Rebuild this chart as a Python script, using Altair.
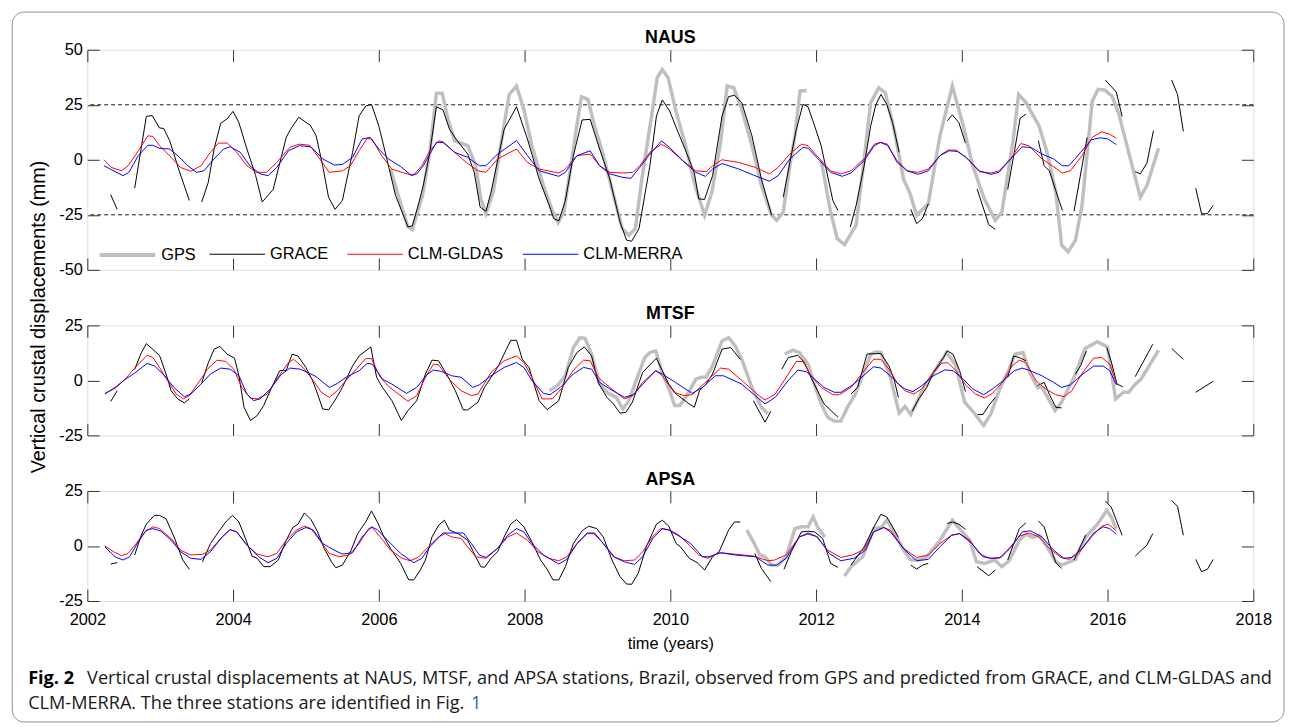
import altair as alt
import pandas as pd

FONT = "Liberation Sans, Arial, sans-serif"
CAP_FONT = "Open Sans, Noto Sans, sans-serif"

SERIES = ["GPS", "GRACE", "CLM-GLDAS", "CLM-MERRA"]
COLORS = ["#bfbfbf", "#000000", "#ff0000", "#0000ff"]
WIDTHS = [3.5, 1.0, 1.0, 1.0]
X_TICKS = [2002, 2004, 2006, 2008, 2010, 2012, 2014, 2016, 2018]
Y_TICKS_NAUS = [-50, -25, 0, 25, 50]
Y_TICKS_SMALL = [-25, 0, 25]
DASH_LEVELS = [25, -25]
G = None  # gap marker

NAUS_GRACE = [(2002.32,-15.8),(2002.41,-22.5),G,(2002.65,-12.9),(2002.81,19.7),(2002.89,20.1),(2002.99,14.5),(2003.05,14.2),(2003.13,8.7),(2003.26,-4.9),(2003.40,-18.5),G,
 (2003.57,-19.2),(2003.66,-10.2),(2003.74,4.9),(2003.83,16.6),(2003.92,18.7),(2004.00,22.0),(2004.08,16.9),(2004.19,4.9),(2004.31,-7.2),(2004.40,-19.2),(2004.55,-13.5),
 (2004.73,10.2),(2004.79,13.9),(2004.90,19.3),(2005.06,15.7),(2005.14,10.9),(2005.23,-2.7),(2005.31,-17.0),(2005.40,-22.5),(2005.50,-18.5),(2005.64,3.4),(2005.73,20.0),
 (2005.82,24.4),(2005.90,25.2),(2006.00,15.4),(2006.11,0.4),(2006.23,-16.2),(2006.40,-30.5),(2006.46,-30.0),(2006.54,-20.7),(2006.61,-11.7),(2006.70,3.4),(2006.79,24.1),
 (2006.88,22.7),(2006.97,13.9),(2007.06,9.4),(2007.22,2.6),(2007.31,-5.7),(2007.39,-21.5),(2007.47,-23.4),(2007.54,-14.7),(2007.72,13.9),(2007.89,24.1),(2008.04,9.4),
 (2008.20,-8.7),(2008.33,-20.0),(2008.40,-26.7),(2008.47,-27.8),(2008.56,-18.5),(2008.67,1.9),(2008.79,18.1),(2008.90,18.4),(2009.03,4.9),(2009.17,-8.7),(2009.31,-28.3),
 (2009.40,-36.5),(2009.47,-37.0),(2009.57,-31.3),(2009.72,-2.7),(2009.81,19.9),(2009.89,27.2),(2009.99,22.2),(2010.10,13.1),(2010.22,3.4),(2010.33,-6.0),(2010.39,-17.8),
 (2010.47,-18.0),(2010.58,-7.2),(2010.71,19.9),(2010.80,28.7),(2010.88,29.3),(2010.98,26.0),(2011.12,10.9),(2011.25,-8.7),(2011.39,-25.2),G,(2011.55,-17.0),(2011.64,-1.2),
 (2011.73,13.9),(2011.82,25.2),(2011.89,24.1),(2011.98,15.4),(2012.07,6.4),(2012.23,-18.5),(2012.30,-23.0),G,(2012.47,-30.5),(2012.55,-20.7),(2012.66,-2.7),(2012.75,15.4),
 (2012.82,25.0),(2012.89,29.7),(2012.97,25.2),(2013.05,16.9),(2013.14,3.4),G,(2013.30,-22.5),(2013.38,-29.0),(2013.46,-26.7),(2013.54,-20.0),G,(2013.80,17.7),(2013.87,20.4),
 (2013.96,16.9),(2014.05,7.6),G,(2014.21,-13.2),(2014.37,-29.5),(2014.46,-31.6),G,(2014.63,-13.5),(2014.72,3.4),(2014.80,18.9),(2014.88,20.7),G,(2015.05,8.7),(2015.13,-2.7),
 (2015.20,-4.9),(2015.29,-14.0),(2015.38,-23.0),G,(2015.54,-23.4),(2015.72,10.2),G,(2015.97,36.2),(2016.12,30.8),(2016.20,19.7),G,(2016.38,-5.4),(2016.45,-6.4),(2016.54,-1.5),
 (2016.63,13.2),G,(2016.88,36.2),(2016.96,29.7),(2017.04,12.9),G,(2017.21,-12.9),(2017.29,-24.5),(2017.37,-24.5),(2017.45,-20.7)]

NAUS_GPS = [(2006.16,-4.2),(2006.30,-20.0),(2006.40,-30.5),(2006.46,-31.6),(2006.60,-16.2),(2006.70,3.4),(2006.79,30.2),(2006.87,30.2),(2006.95,18.4),(2007.04,8.6),
 (2007.22,6.4),(2007.33,-2.7),(2007.40,-17.8),(2007.47,-24.5),(2007.57,-14.7),(2007.70,12.0),(2007.79,29.7),(2007.89,33.5),(2007.99,23.0),(2008.10,6.4),(2008.26,-11.7),
 (2008.37,-22.2),(2008.46,-28.6),(2008.54,-23.7),(2008.71,13.9),(2008.78,28.6),(2008.87,27.5),(2008.96,15.4),(2009.07,3.4),(2009.21,-14.7),(2009.34,-31.3),(2009.43,-34.3),
 (2009.52,-31.3),(2009.61,-8.7),(2009.75,21.4),(2009.82,37.3),(2009.89,41.0),(2009.97,37.3),(2010.07,23.0),(2010.21,6.4),(2010.34,-11.7),(2010.47,-25.2),(2010.57,-14.7),
 (2010.69,7.9),(2010.78,33.5),(2010.87,32.7),(2010.98,23.0),(2011.12,6.4),(2011.25,-11.7),(2011.39,-25.2),(2011.46,-27.5),(2011.55,-23.7),(2011.64,-2.7),(2011.71,10.9),
 (2011.78,31.3),(2011.87,31.5),G,(2012.07,-0.4),(2012.20,-23.7),(2012.29,-35.8),(2012.39,-38.5),(2012.55,-29.7),(2012.66,0.4),(2012.75,26.0),(2012.86,32.7),(2012.95,30.5),
 (2013.07,13.9),(2013.20,-8.7),(2013.29,-15.4),(2013.38,-25.2),(2013.54,-20.0),(2013.70,10.9),(2013.87,33.5),(2014.02,15.4),(2014.15,-2.7),(2014.31,-17.8),(2014.46,-27.5),
 (2014.55,-23.7),(2014.70,7.9),(2014.78,29.7),(2014.88,26.0),(2015.06,15.4),(2015.17,3.4),(2015.29,-14.7),(2015.37,-38.8),(2015.46,-41.8),(2015.56,-36.5),(2015.65,-20.7),
 (2015.79,26.7),(2015.87,32.0),(2015.96,31.7),(2016.06,29.0),(2016.15,21.4),(2016.29,3.4),(2016.45,-17.0),(2016.54,-11.7),(2016.70,5.2)]

NAUS_GLDAS = [(2002.23,0.0),(2002.33,-3.5),(2002.47,-5.0),(2002.56,-2.7),(2002.70,4.1),(2002.83,10.9),(2002.90,10.6),(2002.99,6.4),(2003.15,1.1),(2003.28,-3.5),
 (2003.42,-5.2),(2003.56,-2.7),(2003.69,3.4),(2003.80,7.6),(2003.92,7.6),(2004.05,3.4),(2004.19,-2.7),(2004.32,-5.7),(2004.46,-5.7),(2004.60,-1.2),(2004.78,5.7),
 (2004.91,7.1),(2005.05,6.6),(2005.19,0.4),(2005.32,-5.7),(2005.50,-5.0),(2005.61,-2.7),(2005.73,4.1),(2005.84,9.7),(2005.91,9.3),(2006.04,1.8),(2006.18,-4.2),
 (2006.32,-5.7),(2006.47,-7.2),(2006.59,-2.7),(2006.70,4.1),(2006.82,8.6),(2006.88,8.2),(2007.04,3.4),(2007.20,-1.2),(2007.36,-5.0),(2007.47,-5.7),(2007.63,0.4),
 (2007.89,4.9),(2008.04,-1.2),(2008.20,-4.2),(2008.47,-6.0),(2008.56,-4.2),(2008.72,1.9),(2008.90,2.6),(2009.03,-2.7),(2009.17,-5.7),(2009.35,-6.0),(2009.49,-5.7),
 (2009.58,-2.7),(2009.72,3.4),(2009.88,7.1),(2009.99,4.9),(2010.17,-0.4),(2010.35,-5.0),(2010.49,-5.4),(2010.58,-2.7),(2010.71,0.0),(2010.94,-1.2),(2011.16,-3.4),
 (2011.36,-6.4),(2011.48,-3.5),(2011.64,2.6),(2011.80,7.1),(2011.89,6.4),(2012.05,0.4),(2012.20,-5.0),(2012.34,-6.4),(2012.48,-5.0),(2012.66,0.4),(2012.80,7.1),
 (2012.89,7.9),(2012.98,7.1),(2013.11,-1.2),(2013.25,-5.0),(2013.40,-5.7),(2013.54,-4.2),(2013.70,1.9),(2013.81,4.4),(2013.92,4.4),(2014.06,1.1),(2014.24,-5.4),
 (2014.40,-6.0),(2014.51,-5.0),(2014.67,0.4),(2014.81,7.4),(2014.92,6.4),(2015.10,0.4),(2015.24,-2.7),(2015.38,-6.0),(2015.49,-5.0),(2015.65,1.9),(2015.79,10.2),
 (2015.92,12.7),(2016.03,11.6),(2016.12,9.8)]

NAUS_MERRA = [(2002.23,-2.7),(2002.33,-4.5),(2002.49,-7.2),(2002.57,-5.7),(2002.70,1.9),(2002.83,6.6),(2002.90,6.6),(2002.99,5.2),(2003.13,4.9),(2003.24,1.9),
 (2003.38,-2.7),(2003.50,-5.7),(2003.60,-5.0),(2003.74,0.4),(2003.87,4.9),(2003.96,5.9),(2004.10,3.4),(2004.23,-2.7),(2004.37,-6.4),(2004.48,-7.2),(2004.60,-3.5),
 (2004.76,4.1),(2004.91,6.4),(2005.07,5.9),(2005.23,0.4),(2005.39,-2.4),(2005.50,-2.1),(2005.64,1.1),(2005.77,9.4),(2005.88,10.2),(2006.00,4.9),(2006.13,0.4),
 (2006.30,-3.1),(2006.44,-6.9),(2006.52,-6.5),(2006.61,-2.7),(2006.79,7.9),(2006.88,7.9),(2007.04,3.4),(2007.22,1.1),(2007.38,-2.7),(2007.47,-2.7),(2007.63,2.6),
 (2007.89,8.7),(2008.04,1.9),(2008.20,-5.0),(2008.47,-7.5),(2008.56,-5.7),(2008.72,1.9),(2008.90,4.1),(2009.03,-2.7),(2009.17,-6.4),(2009.35,-8.0),(2009.46,-8.4),
 (2009.58,-3.5),(2009.72,2.6),(2009.88,8.6),(2009.99,5.6),(2010.17,-0.4),(2010.35,-5.7),(2010.48,-7.5),(2010.58,-4.2),(2010.71,-1.7),(2010.94,-4.2),(2011.16,-7.2),
 (2011.36,-9.7),(2011.48,-7.2),(2011.64,0.4),(2011.82,5.6),(2011.89,5.3),(2012.05,-0.4),(2012.20,-5.7),(2012.36,-7.5),(2012.48,-6.0),(2012.66,-0.4),(2012.80,6.4),
 (2012.88,7.9),(2012.98,6.6),(2013.11,-0.4),(2013.25,-5.0),(2013.40,-6.6),(2013.54,-5.0),(2013.70,1.9),(2013.83,4.1),(2013.94,3.8),(2014.06,1.1),(2014.24,-5.0),
 (2014.40,-6.6),(2014.51,-5.7),(2014.67,0.4),(2014.83,5.9),(2014.95,5.6),(2015.10,2.6),(2015.26,0.4),(2015.38,-2.7),(2015.47,-2.7),(2015.63,3.4),(2015.78,9.1),
 (2015.90,10.0),(2016.01,9.4),(2016.12,6.9)]

MTSF_GRACE = [(2002.32,-9.6),(2002.41,-4.7),G,(2002.65,5.0),(2002.74,12.5),(2002.81,16.7),(2002.99,11.4),(2003.08,2.9),(2003.15,-4.7),(2003.24,-8.4),(2003.33,-10.2),
 (2003.40,-8.4),G,(2003.57,-1.0),(2003.66,8.0),(2003.74,14.2),(2003.82,15.4),(2003.92,11.9),(2004.02,10.1),(2004.08,2.1),(2004.15,-12.2),(2004.24,-18.2),(2004.33,-16.0),
 (2004.42,-11.4),(2004.53,-3.2),(2004.64,4.4),(2004.73,4.6),(2004.81,11.9),(2004.89,11.1),(2005.00,5.9),(2005.09,0.0),(2005.16,-6.2),(2005.23,-13.0),(2005.31,-13.4),
 (2005.41,-8.4),(2005.50,-3.2),(2005.64,6.6),(2005.73,11.1),(2005.89,15.2),(2005.97,1.4),(2006.05,-3.2),(2006.18,-9.2),(2006.31,-18.2),(2006.40,-13.7),(2006.52,-9.2),
 (2006.64,2.9),(2006.73,9.2),(2006.82,8.9),(2006.93,2.9),(2007.05,-4.7),(2007.16,-13.4),(2007.22,-13.4),(2007.36,-9.9),(2007.45,-3.2),(2007.63,5.9),(2007.81,18.2),
 (2007.89,18.2),(2007.97,9.6),(2008.06,5.9),(2008.20,-9.2),(2008.31,-13.3),(2008.47,-9.2),(2008.60,5.9),(2008.72,12.7),(2008.82,15.2),(2008.92,11.1),(2009.01,-0.9),
 (2009.13,-7.7),(2009.22,-10.7),(2009.31,-14.9),(2009.39,-14.5),(2009.48,-9.9),(2009.62,3.6),(2009.81,10.1),(2009.89,4.4),(2009.98,-1.7),(2010.08,-6.2),(2010.26,-10.7),
 (2010.33,-12.2),(2010.40,-4.7),(2010.49,-1.7),(2010.58,2.9),(2010.71,14.2),(2010.83,14.9),(2010.96,9.6),G,(2011.14,-9.2),(2011.30,-19.0),(2011.38,-14.0),G,
 (2011.53,5.1),(2011.62,10.4),(2011.75,11.4),(2011.84,8.1),(2011.93,1.4),(2012.02,-4.7),(2012.11,-10.7),(2012.30,-16.7),G,(2012.48,-6.2),(2012.57,-3.2),(2012.70,12.0),
 (2012.89,12.2),(2013.00,6.6),(2013.07,0.6),(2013.13,-7.7),G,(2013.32,-14.0),(2013.41,-8.4),(2013.52,-3.2),(2013.61,3.6),(2013.75,10.4),(2013.80,13.4),(2013.88,11.9),
 (2013.97,4.4),(2014.05,-5.0),G,(2014.22,-15.5),(2014.29,-15.5),(2014.37,-11.4),(2014.46,-7.7),G,(2014.63,1.4),(2014.71,11.1),(2014.79,10.4),(2014.88,8.9),G,
 (2015.04,-2.4),(2015.13,-0.9),(2015.20,-6.2),(2015.29,-12.2),(2015.37,-12.5),G,(2015.56,2.9),(2015.63,6.6),(2015.71,13.4),G,(2015.99,14.9),(2016.06,7.4),(2016.13,-1.7),
 (2016.21,-2.9),G,(2016.38,1.7),(2016.62,16.4),G,(2016.88,14.5),(2017.04,9.6),G,(2017.21,-5.4),(2017.45,-0.4)]

MTSF_GPS = [(2008.34,-4.7),(2008.45,-2.4),(2008.56,2.1),(2008.67,14.9),(2008.76,19.4),(2008.83,19.1),(2008.92,11.9),(2009.03,-1.7),(2009.15,-5.9),(2009.26,-7.7),
 (2009.35,-13.0),(2009.43,-9.2),(2009.53,-0.2),(2009.65,10.4),(2009.72,12.7),(2009.80,13.4),(2009.88,4.4),(2009.99,-4.7),(2010.06,-11.4),(2010.13,-11.4),(2010.24,-6.2),
 (2010.35,0.6),(2010.42,1.4),(2010.49,1.4),(2010.58,6.6),(2010.71,17.9),(2010.80,19.4),(2010.89,15.7),(2010.98,9.6),(2011.12,-3.2),(2011.25,-12.2),(2011.34,-15.2),G,
 (2011.57,11.9),(2011.68,13.7),(2011.77,12.7),(2011.89,7.4),(2011.98,-2.0),(2012.07,-10.7),(2012.16,-16.7),(2012.25,-18.5),(2012.34,-18.5),(2012.43,-12.2),(2012.54,-6.2),
 (2012.68,5.9),(2012.75,11.9),(2012.82,12.9),(2012.89,12.7),(2013.02,1.4),(2013.14,-14.9),(2013.22,-11.9),(2013.30,-15.5),(2013.48,-3.2),(2013.66,5.9),(2013.79,12.7),
 (2013.91,7.4),(2014.04,-9.9),(2014.18,-15.2),(2014.30,-20.5),(2014.40,-15.2),(2014.52,-3.9),(2014.65,5.1),(2014.73,11.9),(2014.84,12.7),(2014.94,2.9),(2015.04,-3.2),
 (2015.10,-3.2),(2015.19,-8.4),(2015.28,-13.7),(2015.37,-9.9),(2015.55,2.1),(2015.69,14.5),(2015.86,17.6),(2016.00,15.2),(2016.11,-8.4),(2016.22,-5.4),(2016.29,-5.4),
 (2016.38,-1.7),(2016.46,0.6),(2016.70,13.7)]

MTSF_GLDAS = [(2002.24,-5.9),(2002.38,-3.6),(2002.51,0.2),(2002.65,5.6),(2002.82,11.4),(2002.90,10.4),(2002.99,5.9),(2003.10,0.0),(2003.22,-6.2),(2003.32,-8.4),
 (2003.40,-6.9),(2003.51,-1.7),(2003.65,5.1),(2003.78,9.2),(2003.90,8.6),(2004.01,5.1),(2004.12,-3.2),(2004.24,-8.1),(2004.33,-8.4),(2004.47,-6.2),(2004.60,0.6),
 (2004.76,8.1),(2004.83,9.6),(2004.96,5.9),(2005.10,0.0),(2005.21,-5.4),(2005.32,-7.7),(2005.43,-4.7),(2005.55,0.0),(2005.69,5.1),(2005.82,9.9),(2005.90,9.9),
 (2006.02,1.4),(2006.14,-2.9),(2006.27,-6.2),(2006.40,-9.5),(2006.52,-6.9),(2006.64,1.4),(2006.75,7.4),(2006.82,7.1),(2006.98,0.0),(2007.13,-4.7),(2007.27,-6.9),
 (2007.36,-6.2),(2007.54,3.6),(2007.72,8.9),(2007.89,11.1),(2007.99,8.1),(2008.10,1.4),(2008.24,-8.4),(2008.38,-8.4),(2008.52,-3.2),(2008.67,4.7),(2008.81,9.2),
 (2008.90,8.9),(2009.01,1.4),(2009.17,-3.2),(2009.37,-8.4),(2009.49,-6.9),(2009.62,-0.9),(2009.80,4.4),(2009.89,2.1),(2010.05,-5.4),(2010.19,-6.9),(2010.30,-6.5),
 (2010.53,0.6),(2010.69,5.6),(2010.80,5.1),(2010.98,0.0),(2011.19,-6.2),(2011.30,-8.9),(2011.44,-6.2),(2011.62,2.9),(2011.73,8.6),(2011.82,8.6),(2011.93,2.1),
 (2012.07,-3.2),(2012.23,-6.5),(2012.32,-6.5),(2012.48,-3.2),(2012.66,4.4),(2012.79,9.6),(2012.89,9.6),(2013.00,5.1),(2013.11,-0.9),(2013.22,-4.7),(2013.34,-6.2),
 (2013.45,-3.9),(2013.56,1.4),(2013.72,7.7),(2013.81,8.1),(2013.92,4.4),(2014.06,-2.4),(2014.19,-6.2),(2014.31,-8.0),(2014.42,-5.9),(2014.56,-0.9),(2014.69,6.6),
 (2014.79,9.2),(2014.88,8.1),(2015.02,-0.2),(2015.15,-3.9),(2015.29,-6.5),(2015.40,-7.4),(2015.51,-4.7),(2015.65,3.2),(2015.81,10.1),(2015.92,10.4),(2016.03,7.4),
 (2016.12,-0.9)]

MTSF_MERRA = [(2002.24,-6.2),(2002.38,-3.2),(2002.51,0.2),(2002.65,3.3),(2002.82,7.7),(2002.92,6.6),(2003.06,2.1),(2003.19,-3.2),(2003.33,-7.4),(2003.42,-6.2),
 (2003.56,-1.7),(2003.69,2.9),(2003.83,5.6),(2003.96,5.1),(2004.08,2.1),(2004.19,-6.2),(2004.28,-9.2),(2004.37,-8.4),(2004.51,-3.9),(2004.66,2.6),(2004.78,5.6),
 (2004.92,5.1),(2005.05,3.2),(2005.14,1.7),(2005.32,-3.2),(2005.43,-1.4),(2005.55,1.4),(2005.73,4.4),(2005.84,7.7),(2005.91,7.4),(2006.05,0.6),(2006.18,-1.7),
 (2006.38,-5.9),(2006.52,-3.2),(2006.66,2.6),(2006.75,4.7),(2006.86,4.1),(2007.00,2.1),(2007.13,1.4),(2007.29,-3.2),(2007.38,-2.0),(2007.54,2.1),(2007.72,5.9),
 (2007.89,8.1),(2007.99,5.9),(2008.10,0.0),(2008.26,-5.9),(2008.35,-6.5),(2008.49,-3.2),(2008.67,2.9),(2008.81,5.9),(2008.92,5.1),(2009.03,-0.9),(2009.17,-3.9),
 (2009.37,-7.7),(2009.49,-6.5),(2009.67,0.0),(2009.80,4.4),(2009.89,2.9),(2010.07,-0.9),(2010.30,-5.9),(2010.44,-3.2),(2010.62,2.1),(2010.73,2.1),(2010.98,-1.7),
 (2011.30,-10.7),(2011.44,-7.7),(2011.62,0.0),(2011.75,4.7),(2011.87,3.9),(2011.98,0.6),(2012.11,-3.2),(2012.25,-5.4),(2012.34,-5.4),(2012.52,-1.7),(2012.70,3.6),
 (2012.79,6.2),(2012.89,5.6),(2013.02,2.1),(2013.13,-1.7),(2013.22,-3.9),(2013.33,-5.1),(2013.45,-2.4),(2013.61,2.1),(2013.77,4.8),(2013.88,4.4),(2014.02,0.6),
 (2014.15,-3.9),(2014.30,-6.5),(2014.42,-3.9),(2014.56,-0.4),(2014.72,4.4),(2014.83,5.6),(2014.94,4.4),(2015.10,2.1),(2015.26,-0.9),(2015.37,-3.2),(2015.49,-2.0),
 (2015.65,2.6),(2015.81,6.5),(2015.94,6.5),(2016.03,4.4),(2016.12,-2.0)]

APSA_GRACE = [(2002.32,-8.2),(2002.41,-7.6),G,(2002.65,-4.1),(2002.74,4.9),(2002.81,9.9),(2002.92,13.9),(2002.99,13.9),(2003.08,12.4),(2003.19,4.1),(2003.31,-6.4),
 (2003.40,-10.6),G,(2003.58,-7.2),(2003.69,1.1),(2003.80,6.4),(2003.90,10.9),(2003.99,13.9),(2004.08,10.9),(2004.17,3.4),(2004.26,-4.6),(2004.33,-5.6),(2004.42,-9.4),
 (2004.51,-9.4),(2004.62,-6.4),(2004.73,2.6),(2004.82,8.4),(2004.89,9.9),(2004.98,15.0),(2005.07,12.0),(2005.16,6.4),(2005.25,-1.1),(2005.35,-7.2),(2005.41,-9.9),
 (2005.50,-8.7),(2005.62,-1.9),(2005.71,5.6),(2005.82,10.9),(2005.90,15.9),(2005.98,10.9),(2006.07,4.1),(2006.16,-1.1),(2006.30,-7.9),(2006.41,-15.4),(2006.48,-15.4),
 (2006.57,-10.9),(2006.64,-6.4),(2006.73,4.1),(2006.82,9.4),(2006.90,11.7),(2006.97,7.2),(2007.09,5.6),(2007.22,2.6),(2007.33,-4.9),(2007.40,-9.4),(2007.45,-9.7),
 (2007.54,-5.6),(2007.63,-2.6),(2007.72,4.1),(2007.81,9.9),(2007.89,12.0),(2007.99,8.7),(2008.10,1.9),(2008.22,-6.4),(2008.31,-10.6),(2008.39,-15.4),(2008.47,-15.4),
 (2008.56,-9.4),(2008.67,1.1),(2008.79,6.9),(2008.88,9.0),(2008.99,7.9),(2009.08,4.1),(2009.20,-6.4),(2009.31,-13.9),(2009.40,-17.3),(2009.47,-17.4),(2009.56,-12.4),
 (2009.67,-0.4),(2009.81,9.9),(2009.89,11.7),(2009.98,9.0),(2010.08,1.1),(2010.14,-0.4),(2010.26,-5.6),(2010.37,-7.6),(2010.47,-10.9),(2010.58,-4.9),(2010.67,-2.6),
 (2010.80,7.2),(2010.88,10.9),(2010.96,10.9),G,(2011.16,-3.4),(2011.25,-10.2),(2011.38,-16.2),G,(2011.56,-10.6),(2011.66,-2.6),(2011.80,6.4),(2011.89,6.7),
 (2011.98,6.4),(2012.09,3.4),(2012.20,-7.9),(2012.30,-9.7),G,(2012.48,-8.7),(2012.66,-0.4),(2012.80,9.0),(2012.89,14.4),(2012.97,13.2),(2013.05,8.7),(2013.13,3.9),G,
 (2013.30,-8.7),(2013.38,-10.5),(2013.46,-8.7),(2013.54,-7.9),G,(2013.80,10.2),(2013.87,10.9),(2013.96,9.9),(2014.05,7.5),G,(2014.21,-9.4),(2014.37,-13.5),
 (2014.46,-10.9),G,(2014.63,-6.4),(2014.79,7.9),(2014.88,10.5),G,(2015.05,11.4),(2015.13,8.7),(2015.20,1.1),(2015.29,-7.6),(2015.37,-10.2),G,(2015.54,-6.4),
 (2015.70,4.9),G,(2015.97,20.4),(2016.05,17.7),(2016.12,11.7),(2016.20,4.9),G,(2016.38,-4.6),(2016.54,0.4),(2016.62,5.6),G,(2016.88,20.7),(2016.96,18.0),(2017.04,4.9),G,
 (2017.21,-6.1),(2017.29,-11.7),(2017.37,-10.6),(2017.45,-6.1)]

APSA_GPS = [(2011.05,7.2),(2011.14,1.9),(2011.23,-4.1),(2011.30,-4.9),(2011.39,-8.7),(2011.48,-8.7),(2011.59,-4.9),(2011.71,7.9),(2011.80,8.7),(2011.89,8.7),
 (2011.96,13.2),(2012.02,8.7),(2012.12,4.1),G,(2012.39,-13.6),(2012.48,-9.4),(2012.64,-4.9),(2012.72,2.0),(2012.79,7.9),(2012.89,8.4),(2012.97,11.7),(2013.07,6.4),
 (2013.20,-1.9),(2013.30,-6.4),(2013.41,-6.4),(2013.52,-4.9),(2013.70,2.6),(2013.87,11.7),(2013.97,7.9),(2014.11,2.6),(2014.20,-7.2),(2014.31,-7.9),(2014.45,-6.4),
 (2014.55,-9.4),(2014.65,-6.7),(2014.79,2.6),(2014.88,5.4),(2014.97,3.9),(2015.06,4.9),(2015.17,-0.4),(2015.29,-7.2),(2015.37,-8.7),(2015.56,-6.1),(2015.70,4.1),
 (2015.87,10.2),(2015.99,16.2),(2016.05,13.2),(2016.12,7.9)]

APSA_GLDAS = [(2002.24,0.0),(2002.36,-2.6),(2002.47,-4.4),(2002.56,-3.4),(2002.67,1.1),(2002.79,6.4),(2002.90,8.7),(2002.99,7.9),(2003.15,3.4),(2003.28,-1.9),
 (2003.42,-4.1),(2003.58,-3.8),(2003.69,-1.9),(2003.83,3.4),(2003.96,7.4),(2004.05,6.4),(2004.19,0.4),(2004.33,-3.7),(2004.48,-4.9),(2004.60,-3.4),(2004.73,2.6),
 (2004.87,7.2),(2004.98,9.0),(2005.07,7.9),(2005.19,2.6),(2005.32,-3.4),(2005.46,-4.9),(2005.59,-4.1),(2005.73,1.1),(2005.86,7.9),(2005.91,8.4),(2006.02,4.1),
 (2006.16,-1.9),(2006.32,-5.6),(2006.43,-6.7),(2006.54,-5.2),(2006.68,-0.4),(2006.82,4.1),(2006.91,5.6),(2007.00,4.1),(2007.13,3.4),(2007.22,-0.4),(2007.33,-4.9),
 (2007.47,-5.6),(2007.63,-1.1),(2007.77,4.1),(2007.89,5.9),(2008.04,2.6),(2008.18,-2.6),(2008.33,-5.6),(2008.47,-6.7),(2008.58,-4.9),(2008.72,1.1),(2008.86,5.6),
 (2008.95,5.6),(2009.06,1.9),(2009.22,-4.9),(2009.37,-6.7),(2009.51,-6.4),(2009.62,-2.6),(2009.76,4.4),(2009.87,7.9),(2009.98,7.4),(2010.12,4.9),(2010.26,0.4),
 (2010.39,-4.1),(2010.51,-5.6),(2010.67,-3.1),(2010.80,-3.4),(2011.14,-4.6),(2011.34,-6.7),(2011.43,-6.4),(2011.59,-4.1),(2011.77,4.1),(2011.89,5.4),(2012.00,4.4),
 (2012.16,-1.9),(2012.34,-5.2),(2012.50,-4.1),(2012.66,-1.6),(2012.79,6.4),(2012.93,8.4),(2013.02,7.2),(2013.20,-1.1),(2013.38,-5.2),(2013.54,-4.1),(2013.70,1.1),
 (2013.86,4.9),(2013.97,5.6),(2014.11,2.6),(2014.24,-3.4),(2014.38,-5.6),(2014.51,-5.6),(2014.65,-1.1),(2014.79,4.4),(2014.92,5.9),(2015.06,4.1),(2015.20,-1.1),
 (2015.36,-5.2),(2015.47,-6.1),(2015.60,-3.4),(2015.78,4.1),(2015.92,9.0),(2016.01,9.9),(2016.12,6.9)]

APSA_MERRA = [(2002.24,-0.4),(2002.38,-4.9),(2002.49,-6.4),(2002.58,-4.9),(2002.70,1.9),(2002.81,7.2),(2002.90,7.9),(2003.01,6.7),(2003.15,2.6),(2003.28,-2.6),
 (2003.42,-5.6),(2003.56,-6.1),(2003.69,-2.6),(2003.85,4.1),(2003.96,7.4),(2004.05,6.4),(2004.19,0.4),(2004.35,-4.9),(2004.48,-7.6),(2004.60,-5.6),(2004.73,1.1),
 (2004.87,6.4),(2005.00,8.4),(2005.10,7.2),(2005.23,1.1),(2005.37,-1.6),(2005.50,-3.7),(2005.64,-3.1),(2005.77,4.1),(2005.90,8.7),(2005.98,7.4),(2006.14,1.9),
 (2006.30,-3.4),(2006.48,-7.6),(2006.59,-5.6),(2006.70,-0.4),(2006.88,5.9),(2007.04,5.9),(2007.16,5.9),(2007.27,1.1),(2007.38,-4.1),(2007.47,-5.2),(2007.63,-1.1),
 (2007.77,4.9),(2007.89,7.9),(2007.99,6.4),(2008.10,1.1),(2008.26,-4.1),(2008.47,-8.2),(2008.58,-6.1),(2008.72,1.1),(2008.86,5.9),(2008.96,5.9),(2009.08,1.1),
 (2009.24,-5.2),(2009.37,-7.2),(2009.51,-8.4),(2009.62,-4.9),(2009.76,3.4),(2009.89,7.9),(2009.98,7.2),(2010.14,4.1),(2010.28,1.1),(2010.44,-4.9),(2010.53,-4.9),
 (2010.69,-3.1),(2010.89,-4.1),(2011.17,-4.9),(2011.34,-8.7),(2011.46,-8.7),(2011.59,-5.6),(2011.77,4.1),(2011.89,5.9),(2012.02,4.1),(2012.18,-3.4),(2012.34,-6.7),
 (2012.52,-5.6),(2012.68,-1.9),(2012.79,6.4),(2012.93,8.4),(2013.02,6.4),(2013.22,-1.9),(2013.38,-6.7),(2013.54,-6.1),(2013.70,-0.4),(2013.86,4.9),(2013.97,5.6),
 (2014.13,1.4),(2014.29,-4.9),(2014.40,-5.6),(2014.54,-5.2),(2014.68,-0.4),(2014.83,6.4),(2014.94,6.9),(2015.10,4.1),(2015.26,-1.9),(2015.40,-5.6),(2015.51,-5.2),
 (2015.65,-1.1),(2015.81,5.9),(2015.94,8.7),(2016.03,7.9),(2016.12,5.3)]

CAPTION_BOLD = "Fig. 2"
CAPTION_LINE1 = ("Vertical crustal displacements at NAUS, MTSF, and APSA stations, Brazil, observed from GPS "
                 "and predicted from GRACE, and CLM-GLDAS and")
CAPTION_LINE2 = "CLM-MERRA. The three stations are identified in Fig."
CAPTION_REF = "1"

STATIONS = {
    "NAUS": {"GPS": NAUS_GPS, "GRACE": NAUS_GRACE, "CLM-GLDAS": NAUS_GLDAS, "CLM-MERRA": NAUS_MERRA},
    "MTSF": {"GPS": MTSF_GPS, "GRACE": MTSF_GRACE, "CLM-GLDAS": MTSF_GLDAS, "CLM-MERRA": MTSF_MERRA},
    "APSA": {"GPS": APSA_GPS, "GRACE": APSA_GRACE, "CLM-GLDAS": APSA_GLDAS, "CLM-MERRA": APSA_MERRA},
}

rows = []
for st, ser in STATIONS.items():
    for name, pts in ser.items():
        seg = 0
        for p in pts:
            if p is None:
                seg += 1
                continue
            rows.append({"station": st, "series": name, "t": p[0], "v": p[1], "seg": f"{name}-{seg}"})
df = pd.DataFrame(rows)

W = 1176
color_scale = alt.Scale(domain=SERIES, range=COLORS)
x_scale = alt.Scale(domain=[2002, 2018], nice=False, zero=False)
TICK = 12
TICK_COLOR = "#333333"
LBL = 16.5
CAP_SIZE = 18.3
one = pd.DataFrame({"k": [0]})


def axis_common(**kw):
    base = dict(offset=-TICK, tickSize=TICK, domain=False, grid=False, tickColor=TICK_COLOR,
                tickWidth=1, labelFont=FONT, labelFontSize=LBL, labelColor="black", labelFlush=False,
                titleFont=FONT, titleFontSize=16.5, titleFontWeight="normal", titleColor="black")
    base.update(kw)
    return alt.Axis(**base)


def legend_part(values, x, stroke_width):
    return alt.Legend(
        orient="none", legendX=x, legendY=177, direction="horizontal", title=None,
        values=values, symbolType="stroke", symbolSize=3136, symbolStrokeWidth=stroke_width,
        labelFont=FONT, labelFontSize=LBL, labelColor="black", labelOffset=4,
        columnPadding=16, padding=0, labelLimit=300)


def panel(station, ymax, yticks, height, show_legend=False, bottom_labels=False, ytitle=False, dashed=False):
    data = df[df.station == station]
    y_scale = alt.Scale(domain=[-ymax, ymax], nice=False, zero=False)

    if bottom_labels:
        xb = axis_common(orient="bottom", values=X_TICKS, format="d", labelPadding=11,
                         title="time (years)", titlePadding=7)
    else:
        xb = axis_common(orient="bottom", values=X_TICKS, labels=False, title=None)
    if ytitle:
        yl = axis_common(orient="left", values=yticks, labelPadding=5, labelExpr="'' + datum.value",
                         title="Vertical crustal displacements (mm)", titlePadding=10, titleY=-9,
                         titleFontSize=20)
    else:
        yl = axis_common(orient="left", values=yticks, labelPadding=5, labelExpr="'' + datum.value",
                         title=None)
    xt = axis_common(orient="top", values=X_TICKS, labels=False, title=None)
    yr = axis_common(orient="right", values=yticks, labels=False, title=None)

    axes_a = alt.Chart(data).mark_point(opacity=0).encode(
        x=alt.X("t:Q", scale=x_scale, axis=xb), y=alt.Y("v:Q", scale=y_scale, axis=yl))
    axes_b = alt.Chart(data).mark_point(opacity=0).encode(
        x=alt.X("t:Q", scale=x_scale, axis=xt), y=alt.Y("v:Q", scale=y_scale, axis=yr))
    name = alt.Chart(one).mark_text(text=station, fontSize=18, fontWeight="bold", font=FONT,
                                    color="black", align="center", baseline="alphabetic").encode(
        x=alt.value(W / 2), y=alt.value(-6.5))

    layers = [axes_a, axes_b, name]
    if dashed:
        layers.append(
            alt.Chart(pd.DataFrame({"y": DASH_LEVELS})).mark_rule(
                color="black", strokeWidth=0.9, strokeDash=[4, 3]).encode(
                y=alt.Y("y:Q", scale=y_scale, axis=None)))

    for i, (s, w) in enumerate(zip(SERIES, WIDTHS)):
        if show_legend and i == 0:
            leg = legend_part(["GPS"], 10.5, 4)
        elif show_legend and i == 1:
            leg = legend_part(["GRACE", "CLM-GLDAS", "CLM-MERRA"], 122.3, 1.2)
        else:
            leg = None
        layers.append(
            alt.Chart(data[data.series == s]).mark_line(clip=True, strokeWidth=w).encode(
                x=alt.X("t:Q", scale=x_scale, axis=None),
                y=alt.Y("v:Q", scale=y_scale, axis=None),
                color=alt.Color("series:N", scale=color_scale, legend=leg),
                detail="seg:N"))

    return alt.layer(*layers).resolve_axis(x="independent", y="independent").resolve_legend(
        color="independent").properties(width=W, height=height)


p1 = panel("NAUS", 50, Y_TICKS_NAUS, 222, show_legend=True, dashed=True)
p2 = panel("MTSF", 25, Y_TICKS_SMALL, 111, ytitle=True)
p3 = panel("APSA", 25, Y_TICKS_SMALL, 111, bottom_labels=True)

cap_x0 = -59.7
frame = alt.Chart(one).mark_rect(fillOpacity=0, stroke="#8f8f8f", strokeWidth=1, cornerRadius=12).encode(
    x=alt.value(-75.7), x2=alt.value(1207), y=alt.value(-650), y2=alt.value(66))
t_bold = alt.Chart(one).mark_text(text=CAPTION_BOLD, align="left", baseline="alphabetic", font=CAP_FONT,
                                  fontSize=CAP_SIZE, fontWeight="bold", color="black").encode(
    x=alt.value(cap_x0), y=alt.value(27.7))
t_l1 = alt.Chart(one).mark_text(text=CAPTION_LINE1, align="left", baseline="alphabetic", font=CAP_FONT,
                                fontSize=CAP_SIZE, color="#1a1a1a").encode(
    x=alt.value(-0.2), y=alt.value(27.7))
t_l2 = alt.Chart(one).mark_text(text=CAPTION_LINE2, align="left", baseline="alphabetic", font=CAP_FONT,
                                fontSize=CAP_SIZE, color="#1a1a1a").encode(
    x=alt.value(cap_x0), y=alt.value(53.2))
t_ref = alt.Chart(one).mark_text(text=CAPTION_REF, align="left", baseline="alphabetic", font=CAP_FONT,
                                 fontSize=CAP_SIZE, color="#2a62c9").encode(
    x=alt.value(387), y=alt.value(53.2))
caption = alt.layer(frame, t_bold, t_l1, t_l2, t_ref).properties(
    width=W, height=40, view=alt.ViewBackground(strokeWidth=0))

chart = alt.vconcat(p1, p2, p3, caption, spacing=56, bounds="flush").resolve_legend(
    color="independent").properties(padding={"top": 0, "left": 3, "right": 3, "bottom": 3}).configure_view(
    stroke=TICK_COLOR, strokeWidth=1).configure(font=FONT)

chart.save("out.html", embed_options={"renderer": "svg", "actions": False})
